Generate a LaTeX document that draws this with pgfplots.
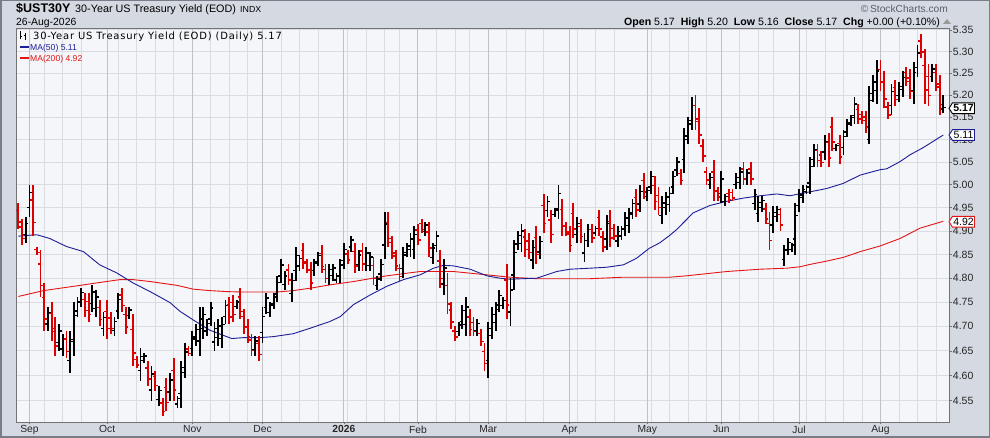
\documentclass[border=0pt]{standalone}
\usepackage{pgfplots}
\pgfplotsset{compat=1.18}
\usepackage{pgfplotstable}
\usepackage{fontspec}
\setmainfont{Liberation Sans}
\newfontfamily\dvs[LetterSpace=8]{DejaVu Sans}
\definecolor{bgout}{RGB}{213,217,226}
\definecolor{frameout}{RGB}{120,125,135}
\definecolor{bgplot}{RGB}{245,246,250}
\definecolor{gridc}{RGB}{218,220,226}
\definecolor{monthc}{RGB}{190,193,200}
\definecolor{barred}{RGB}{220,0,0}
\definecolor{mablue}{RGB}{28,28,150}
\definecolor{mared}{RGB}{228,20,20}
\definecolor{copyc}{RGB}{90,95,105}

\pgfdeclareplotmark{otick}{%
  \pgfpathmoveto{\pgfqpoint{-\pgfplotmarksize}{0pt}}%
  \pgfpathlineto{\pgfqpoint{0pt}{0pt}}%
  \pgfusepathqstroke}
\pgfdeclareplotmark{ctick}{%
  \pgfpathmoveto{\pgfqpoint{0pt}{0pt}}%
  \pgfpathlineto{\pgfqpoint{\pgfplotmarksize}{0pt}}%
  \pgfusepathqstroke}

% x = trading-day index (0 = 27-Aug-2025 ... 250 = 26-Aug-2026), o h l c
\pgfplotstableread{
x o h l c
2 4.892 4.930 4.875 4.916
3 4.951 5.000 4.930 4.983
8 4.705 4.740 4.690 4.728
11 4.667 4.705 4.650 4.691
12 4.654 4.685 4.640 4.674
14 4.631 4.690 4.605 4.669
15 4.673 4.750 4.640 4.723
16 4.732 4.760 4.720 4.750
17 4.752 4.780 4.740 4.770
20 4.747 4.785 4.730 4.771
21 4.737 4.775 4.720 4.761
23 4.695 4.730 4.680 4.718
26 4.692 4.720 4.680 4.710
27 4.732 4.770 4.715 4.756
30 4.723 4.740 4.715 4.734
33 4.610 4.655 4.590 4.639
34 4.631 4.645 4.625 4.640
36 4.571 4.620 4.550 4.603
38 4.552 4.580 4.540 4.570
41 4.567 4.605 4.550 4.591
43 4.543 4.560 4.535 4.554
44 4.564 4.630 4.535 4.606
45 4.616 4.665 4.595 4.648
47 4.655 4.690 4.640 4.678
48 4.674 4.705 4.660 4.694
49 4.670 4.740 4.640 4.715
50 4.695 4.740 4.675 4.724
51 4.691 4.715 4.680 4.706
52 4.715 4.750 4.700 4.738
53 4.668 4.710 4.650 4.695
54 4.677 4.715 4.660 4.701
55 4.675 4.720 4.655 4.704
56 4.720 4.755 4.705 4.743
59 4.741 4.755 4.735 4.750
64 4.652 4.680 4.640 4.670
66 4.688 4.740 4.665 4.721
67 4.739 4.770 4.725 4.759
68 4.729 4.750 4.720 4.743
69 4.746 4.770 4.735 4.761
70 4.767 4.805 4.750 4.791
71 4.805 4.840 4.790 4.828
72 4.787 4.815 4.775 4.805
74 4.768 4.810 4.750 4.795
75 4.816 4.865 4.795 4.848
76 4.826 4.850 4.815 4.841
80 4.816 4.840 4.805 4.831
81 4.834 4.855 4.825 4.848
84 4.799 4.830 4.785 4.819
85 4.806 4.830 4.795 4.821
86 4.796 4.810 4.790 4.805
87 4.805 4.840 4.790 4.828
88 4.837 4.875 4.820 4.861
90 4.866 4.890 4.855 4.881
92 4.829 4.860 4.815 4.849
94 4.830 4.865 4.815 4.853
95 4.827 4.855 4.815 4.845
97 4.784 4.805 4.775 4.798
98 4.809 4.840 4.795 4.829
99 4.870 4.940 4.840 4.915
104 4.820 4.865 4.800 4.849
105 4.854 4.875 4.845 4.868
106 4.860 4.895 4.845 4.883
107 4.861 4.910 4.840 4.893
110 4.899 4.920 4.890 4.913
112 4.844 4.875 4.830 4.864
113 4.869 4.900 4.855 4.889
115 4.788 4.840 4.765 4.821
119 4.689 4.710 4.680 4.703
120 4.710 4.745 4.695 4.733
121 4.704 4.760 4.680 4.740
124 4.691 4.715 4.680 4.706
127 4.630 4.710 4.595 4.681
128 4.695 4.740 4.675 4.724
129 4.708 4.750 4.690 4.735
130 4.744 4.775 4.730 4.764
131 4.743 4.760 4.735 4.754
133 4.730 4.800 4.700 4.775
134 4.807 4.880 4.775 4.854
135 4.872 4.900 4.860 4.890
136 4.873 4.915 4.855 4.900
139 4.838 4.880 4.820 4.865
141 4.855 4.890 4.840 4.878
143 4.944 4.975 4.930 4.964
145 4.936 4.950 4.930 4.945
146 4.948 5.000 4.925 4.981
151 4.892 4.930 4.875 4.916
153 4.853 4.895 4.835 4.880
154 4.880 4.915 4.865 4.903
156 4.896 4.910 4.890 4.905
159 4.883 4.935 4.860 4.916
162 4.879 4.910 4.865 4.899
163 4.889 4.910 4.880 4.903
164 4.905 4.940 4.890 4.928
165 4.912 4.950 4.895 4.936
166 4.939 4.970 4.925 4.959
168 4.958 5.000 4.940 4.985
170 4.974 4.995 4.965 4.988
171 4.995 5.030 4.980 5.018
174 4.933 4.975 4.915 4.960
175 4.950 4.985 4.935 4.973
176 4.957 4.995 4.940 4.981
177 4.995 5.030 4.980 5.018
178 5.032 5.060 5.020 5.050
180 5.055 5.125 5.025 5.100
181 5.108 5.150 5.090 5.135
182 5.143 5.195 5.120 5.176
187 5.001 5.025 4.990 5.016
190 4.981 5.030 4.960 5.013
191 4.963 4.980 4.955 4.974
194 5.001 5.025 4.990 5.016
195 5.005 5.040 4.990 5.028
197 5.011 5.035 5.000 5.026
199 4.959 4.990 4.945 4.979
200 4.937 4.975 4.920 4.961
201 4.951 4.975 4.940 4.966
204 4.913 4.955 4.895 4.940
205 4.931 4.955 4.920 4.946
207 4.839 4.870 4.825 4.859
208 4.861 4.885 4.850 4.876
209 4.861 4.875 4.855 4.870
210 4.883 4.960 4.850 4.933
211 4.955 4.990 4.940 4.978
212 4.972 5.000 4.960 4.990
213 4.986 5.000 4.980 4.995
214 5.004 5.060 4.980 5.040
215 5.055 5.090 5.040 5.078
218 5.072 5.110 5.055 5.096
221 5.080 5.090 5.075 5.086
223 5.082 5.120 5.065 5.106
224 5.117 5.145 5.105 5.135
225 5.138 5.155 5.130 5.149
226 5.153 5.195 5.135 5.180
230 5.100 5.220 5.090 5.188
231 5.203 5.245 5.185 5.230
232 5.210 5.280 5.180 5.255
236 5.176 5.225 5.155 5.208
238 5.199 5.230 5.185 5.219
239 5.213 5.255 5.195 5.240
242 5.209 5.275 5.180 5.251
243 5.263 5.315 5.240 5.296
247 5.242 5.270 5.230 5.260
250 5.168 5.200 5.160 5.172
}\upbars

\pgfplotstableread{
x o h l c
0 4.944 4.960 4.905 4.919
1 4.909 4.925 4.870 4.884
4 4.967 5.000 4.890 4.918
5 4.861 4.865 4.850 4.854
6 4.830 4.860 4.760 4.785
7 4.760 4.790 4.690 4.715
9 4.726 4.750 4.670 4.690
10 4.696 4.720 4.640 4.660
13 4.674 4.690 4.635 4.649
18 4.755 4.770 4.720 4.733
19 4.752 4.770 4.710 4.725
22 4.739 4.755 4.700 4.714
24 4.731 4.755 4.675 4.695
25 4.717 4.730 4.685 4.696
28 4.765 4.780 4.730 4.743
29 4.724 4.740 4.685 4.699
31 4.694 4.725 4.620 4.646
32 4.633 4.640 4.615 4.621
35 4.615 4.630 4.580 4.593
37 4.598 4.610 4.570 4.580
39 4.545 4.555 4.520 4.529
40 4.576 4.595 4.530 4.546
42 4.610 4.635 4.550 4.571
46 4.654 4.660 4.640 4.645
57 4.744 4.760 4.705 4.719
58 4.749 4.765 4.710 4.724
60 4.761 4.780 4.715 4.731
61 4.720 4.735 4.685 4.698
62 4.700 4.715 4.665 4.678
63 4.672 4.685 4.640 4.651
65 4.665 4.680 4.630 4.643
73 4.817 4.830 4.785 4.796
77 4.859 4.875 4.820 4.834
78 4.831 4.840 4.810 4.818
79 4.817 4.835 4.775 4.790
82 4.852 4.870 4.810 4.825
83 4.818 4.830 4.790 4.800
89 4.851 4.860 4.830 4.838
91 4.856 4.875 4.810 4.826
93 4.857 4.875 4.815 4.830
96 4.827 4.845 4.785 4.800
100 4.918 4.940 4.865 4.884
101 4.875 4.890 4.840 4.853
102 4.847 4.860 4.815 4.826
103 4.820 4.830 4.795 4.804
108 4.902 4.915 4.870 4.881
109 4.916 4.925 4.895 4.903
111 4.898 4.920 4.845 4.864
114 4.836 4.860 4.780 4.800
116 4.785 4.810 4.725 4.746
117 4.734 4.750 4.695 4.709
118 4.691 4.700 4.670 4.678
122 4.719 4.735 4.680 4.694
123 4.708 4.720 4.680 4.690
125 4.685 4.695 4.660 4.669
126 4.649 4.665 4.610 4.624
132 4.796 4.830 4.715 4.744
137 4.887 4.905 4.845 4.860
138 4.879 4.895 4.840 4.854
140 4.886 4.910 4.830 4.850
142 4.955 4.980 4.895 4.916
144 4.924 4.945 4.875 4.893
147 4.946 4.970 4.890 4.910
148 4.911 4.920 4.890 4.898
149 4.894 4.910 4.855 4.869
150 4.938 4.960 4.885 4.904
152 4.910 4.925 4.875 4.888
155 4.903 4.915 4.875 4.885
157 4.929 4.945 4.890 4.904
158 4.887 4.900 4.855 4.866
160 4.921 4.945 4.865 4.885
161 4.905 4.915 4.880 4.889
167 4.972 4.990 4.930 4.945
169 5.009 5.025 4.970 4.984
172 4.998 5.020 4.945 4.964
173 4.977 4.995 4.935 4.950
179 5.025 5.035 5.000 5.009
183 5.176 5.200 5.120 5.140
184 5.146 5.170 5.090 5.110
185 5.085 5.100 5.050 5.063
186 5.028 5.040 5.000 5.010
188 5.028 5.055 4.965 4.988
189 4.986 4.995 4.965 4.973
192 4.981 4.990 4.960 4.968
193 4.983 4.990 4.965 4.971
196 5.035 5.050 5.000 5.013
198 5.035 5.050 5.000 5.013
202 4.947 4.960 4.915 4.926
203 4.916 4.940 4.860 4.880
206 4.935 4.950 4.900 4.913
216 5.075 5.090 5.040 5.053
217 5.065 5.075 5.040 5.049
219 5.093 5.115 5.040 5.059
220 5.128 5.150 5.075 5.094
222 5.091 5.110 5.045 5.061
227 5.167 5.180 5.135 5.146
228 5.156 5.165 5.135 5.143
229 5.150 5.165 5.115 5.128
233 5.259 5.280 5.210 5.228
234 5.230 5.255 5.170 5.191
235 5.173 5.185 5.145 5.155
237 5.217 5.235 5.175 5.190
240 5.252 5.265 5.220 5.231
241 5.239 5.260 5.190 5.208
244 5.324 5.340 5.285 5.299
245 5.268 5.305 5.180 5.211
246 5.242 5.270 5.175 5.199
248 5.252 5.270 5.210 5.225
249 5.218 5.245 5.155 5.178
}\downbars

\pgfplotstableread{
x y
0 4.889
3 4.891
5 4.892
8.5 4.884
13 4.867
17.6 4.856
22 4.828
26.6 4.811
31 4.790
35.6 4.772
41 4.749
43.7 4.731
47.3 4.713
51.8 4.692
56.3 4.679
57.7 4.675
60.8 4.677
65.3 4.677
68.9 4.679
74.3 4.685
78.8 4.696
81.5 4.703
84.2 4.710
87 4.720
90.6 4.745
95.1 4.765
99.6 4.783
104.1 4.797
108.6 4.807
112.2 4.821
114.9 4.827
117.6 4.826
122.1 4.819
126.6 4.805
130.2 4.800
132.9 4.798
140.1 4.800
145.5 4.814
149.1 4.819
154.5 4.821
159 4.823
163.5 4.828
167.1 4.842
170.5 4.863
173.4 4.875
176.1 4.891
177.9 4.903
182.4 4.939
186.9 4.955
191.5 4.964
196 4.971
200.5 4.976
205 4.980
208.6 4.976
212.2 4.982
216.7 4.989
218.5 4.992
223 5.003
227.5 5.021
232.9 5.033
234.7 5.035
238.3 5.051
241 5.066
244.6 5.082
250 5.110
}\maFifty

\pgfplotstableread{
x y
0 4.762
6.8 4.774
17.6 4.786
22 4.791
27.5 4.797
31 4.797
35.6 4.793
42.8 4.785
47.3 4.777
51.8 4.774
56.3 4.772
60.8 4.771
69.8 4.771
74.3 4.774
78.8 4.779
84.2 4.786
90.6 4.793
99.6 4.805
108.6 4.814
117.6 4.814
126.6 4.807
132.9 4.802
140.1 4.799
154.5 4.799
163.5 4.802
176.1 4.802
180.6 4.805
191.5 4.814
200.5 4.819
207.7 4.821
211.3 4.824
214 4.829
218.5 4.836
223 4.844
227.5 4.856
232.9 4.868
238.3 4.884
243.7 4.906
250 4.921
}\maTwoHundred

\begin{document}
\begin{tikzpicture}[x=1pt,y=1pt]
\fill[bgout] (0,0) rectangle (990,438);
\useasboundingbox (0,0) rectangle (990,438);
\draw[frameout, line width=1.5pt] (0.75,0.75) rectangle (989.25,437.25);

% header
\node[anchor=base west, inner sep=0pt, font=\fontsize{12.5}{14}\selectfont\bfseries] at (16,425.3) {\$UST30Y};
\node[anchor=base west, inner sep=0pt, font=\fontsize{10.8}{13}\selectfont] at (75,425.3) {30-Year US Treasury Yield (EOD)};
\node[anchor=base west, inner sep=0pt, font=\fontsize{8.8}{10}\selectfont] at (240,425.3) {INDX};
\node[anchor=base west, inner sep=0pt, font=\fontsize{10.4}{12}\selectfont] at (16,412.5) {26-Aug-2026};
\node[anchor=base east, inner sep=0pt, font=\fontsize{10.2}{12}\selectfont, text=copyc] at (948,425.5) {\textcopyright\,StockCharts.com};
\node[anchor=base east, inner sep=0pt, font=\fontsize{10.6}{12}\selectfont] at (940,412.5)
  {\textbf{Open} 5.17\hspace{6pt}\textbf{High} 5.20\hspace{6pt}\textbf{Low} 5.16\hspace{6pt}\textbf{Close} 5.17\hspace{6pt}\textbf{Chg} +0.00 (+0.10\%)};
\fill[gray!80] (943,414) -- (951,414) -- (947,419) -- cycle;

\begin{axis}[
  at={(16.7pt,16pt)}, anchor=south west,
  scale only axis, width=932.3pt, height=393pt,
  xmin=-0.45, xmax=251.54,
  ymode=log, ymin=4.5079, ymax=5.3523,
  axis background/.style={fill=bgplot},
  axis line style={draw=black!55, line width=0.9pt},
  clip mode=individual,
  ymajorgrids=true,
  major grid style={gridc, line width=0.8pt},
  ytick={4.55,4.60,4.65,4.70,4.75,4.80,4.85,4.90,4.95,5.00,5.05,5.10,5.15,5.20,5.25,5.30,5.35},
  yticklabels={4.55,4.60,4.65,4.70,4.75,4.80,4.85,4.90,4.95,5.00,5.05,5.10,5.15,5.20,5.25,5.30,5.35},
  yticklabel pos=right, ytick pos=right,
  xtick pos=left,
  xtick={3,24,47,66,88,108,127,149,170,190,211,233},
  xticklabels={Sep,Oct,Nov,Dec,\textbf{2026},Feb,Mar,Apr,May,Jun,Jul,Aug},
  minor xtick={0,1,...,250},
  tick align=outside,
  major tick length=2.5pt, minor tick length=1.5pt,
  tick style={draw=black!55, line width=0.6pt},
  yticklabel style={anchor=west, inner sep=0pt, xshift=1.2pt, font=\fontsize{10.5}{12}\selectfont, text=black!85},
  xticklabel style={anchor=north, inner sep=0pt, yshift=-1pt, font=\fontsize{10.3}{12}\selectfont, text=black!85},
]
% weekly and monthly grid lines
\pgfplotsinvokeforeach{7,12,17,27,32,37,42,52,57,62,71,76,81,89,94,99,103,113,118,122,132,137,142,151,156,161,171,176,181,186,195,200,204,213,218,223,228,238,243,248}{
  \draw[gridc, line width=0.8pt] (axis cs:#1,4.5079) -- (axis cs:#1,5.3523);}
\pgfplotsinvokeforeach{3,24,47,66,88,108,127,149,170,190,211,233}{
  \draw[monthc, line width=0.9pt] (axis cs:#1,4.5079) -- (axis cs:#1,5.3523);}

% moving averages
\addplot[mared, line width=0.9pt, no marks] table[x=x,y=y] {\maTwoHundred};
\addplot[mablue, line width=0.9pt, no marks] table[x=x,y=y] {\maFifty};

% OHLC bars: up (black)
\addplot[black, only marks, mark=ctick, mark size=2.7pt, line width=1.4pt, mark options={line width=1.4pt},
  error bars/.cd, y dir=both, y explicit, error mark=none, error bar style={line width=1.8pt, black}]
  table[x=x, y=c, y error plus expr=\thisrow{h}-\thisrow{c}, y error minus expr=\thisrow{c}-\thisrow{l}] {\upbars};
\addplot[black, only marks, mark=otick, mark size=2.7pt, line width=1.4pt, mark options={line width=1.4pt}]
  table[x=x, y=o] {\upbars};
% down (red)
\addplot[barred, only marks, mark=ctick, mark size=2.7pt, line width=1.4pt, mark options={line width=1.4pt},
  error bars/.cd, y dir=both, y explicit, error mark=none, error bar style={line width=1.8pt, barred}]
  table[x=x, y=c, y error plus expr=\thisrow{h}-\thisrow{c}, y error minus expr=\thisrow{c}-\thisrow{l}] {\downbars};
\addplot[barred, only marks, mark=otick, mark size=2.7pt, line width=1.4pt, mark options={line width=1.4pt}]
  table[x=x, y=o] {\downbars};

\coordinate (tagA) at (axis cs:251.54,5.17);
\coordinate (tagB) at (axis cs:251.54,5.11);
\coordinate (tagC) at (axis cs:251.54,4.92);
\end{axis}

% value tags on the right
\filldraw[fill=white, draw=black, line width=0.9pt] (tagA) -- ++(3.5,5.4) -- ++(22,0) -- ++(0,-10.8) -- ++(-22,0) -- cycle;
\node[font=\fontsize{10.5}{12}\selectfont\bfseries, inner sep=0pt] at ([xshift=14.5pt]tagA) {5.17};
\filldraw[fill=white, draw=mablue, line width=0.9pt] (tagB) -- ++(3.5,5.4) -- ++(22,0) -- ++(0,-10.8) -- ++(-22,0) -- cycle;
\node[font=\fontsize{10.5}{12}\selectfont, inner sep=0pt] at ([xshift=14.5pt]tagB) {5.11};
\filldraw[fill=white, draw=mared, line width=0.9pt] (tagC) -- ++(3.5,5.4) -- ++(22,0) -- ++(0,-10.8) -- ++(-22,0) -- cycle;
\node[font=\fontsize{10.5}{12}\selectfont, inner sep=0pt] at ([xshift=14.5pt]tagC) {4.92};

% in-plot legend
\draw[black, line width=1pt] (20.5,399) -- (20.5,406.5);
\draw[black, line width=0.8pt] (20.5,402) -- (22.3,402);
\draw[black, line width=1pt] (25.5,398) -- (25.5,405);
\draw[black, line width=0.8pt] (23.7,403) -- (25.5,403);
\node[anchor=base west, inner sep=0pt, font=\dvs\fontsize{9.95}{11}\selectfont] at (33,398.7) {30-Year US Treasury Yield (EOD) (Daily) 5.17};
\draw[mablue, line width=1.6pt] (20,391) -- (28.5,391);
\node[anchor=base west, inner sep=0pt, font=\fontsize{8.6}{10}\selectfont, text=mablue] at (30,387.5) {MA(50) 5.11};
\draw[mared, line width=1.6pt] (20,379.7) -- (28.5,379.7);
\node[anchor=base west, inner sep=0pt, font=\fontsize{8.6}{10}\selectfont, text=mared] at (30,376.2) {MA(200) 4.92};
\end{tikzpicture}
\end{document}
